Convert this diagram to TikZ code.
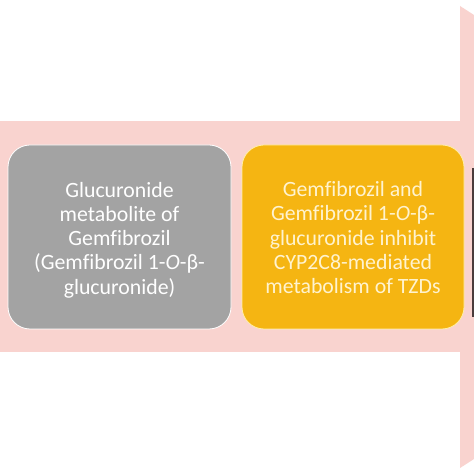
\documentclass[tikz,border=0pt]{standalone}
\usepackage{fontspec}
\setmainfont{Carlito}[Ligatures=NoCommon]
\definecolor{bandpink}{HTML}{F9D3CF}
\definecolor{boxgray}{HTML}{A3A3A3}
\definecolor{boxorange}{HTML}{F5B512}
\definecolor{darkbar}{HTML}{4B3B3B}
\definecolor{cream}{HTML}{FFF3CF}
\definecolor{paleyellow}{HTML}{FFF0A8}
\begin{document}
\begin{tikzpicture}[x=1pt,y=1pt,
  stagebox/.style={rounded corners=22pt, line width=0.8pt},
  stagetext/.style={align=center, inner sep=0pt, font=\fontsize{21.8}{24.2}\selectfont}]
\useasboundingbox (0,0) rectangle (474,474);
\fill[white] (0,0) rectangle (474,474);
% band and arrow head
\fill[bandpink] (0,353) rectangle (461,122);
\fill[bandpink] (460,468) -- (474,459) -- (474,15) -- (460,6) -- cycle;
% dark next box edge
\fill[darkbar] (472,306) rectangle (474,157);
% boxes
\draw[stagebox, fill=boxgray, draw=white] (8,329) rectangle (231,145);
\draw[stagebox, fill=boxorange, draw=paleyellow] (242,329) rectangle (464,145);
\node[stagetext, text=white] (gluc) at (119.5,234)
  {Glucuronide\\metabolite of\\Gemfibrozil\\(Gemfibrozil 1-\textit{O}-β-\\glucuronide)};
\node[stagetext, text=cream] (inhib) at (353,236.4)
  {Gemfibrozil and\\Gemfibrozil 1-\textit{O}-β-\\glucuronide inhibit\\CYP2C8-mediated\\metabolism of TZDs};
\end{tikzpicture}
\end{document}
